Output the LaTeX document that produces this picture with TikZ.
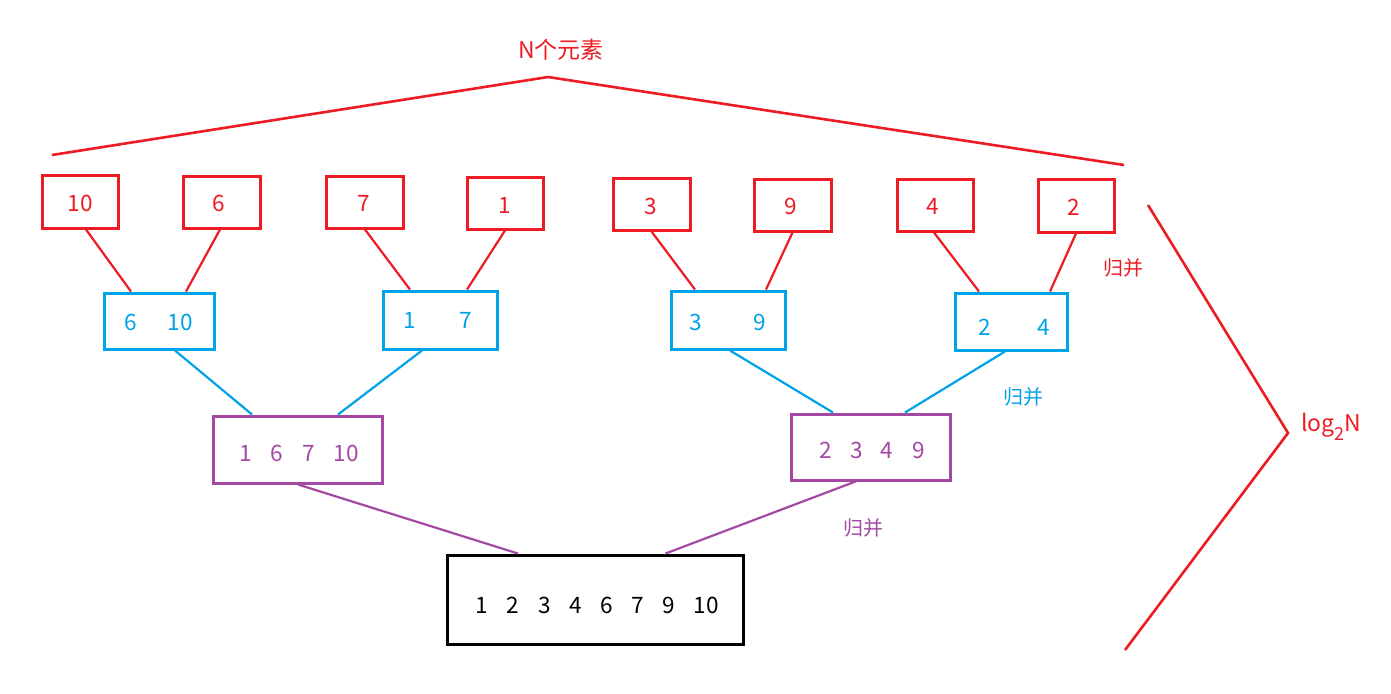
\documentclass[tikz,border=0pt]{standalone}
\usepackage{fontspec}
\setmainfont{Noto Sans CJK SC}
\usetikzlibrary{calc}
\definecolor{pred}{RGB}{237,28,36}
\definecolor{pblue}{RGB}{0,162,232}
\definecolor{ppurple}{RGB}{163,73,164}
\tikzset{
  box/.style={draw, rectangle, inner sep=0pt, line width=1.5pt},
  redbox/.style={box, draw=pred},
  bluebox/.style={box, draw=pblue},
  purplebox/.style={box, draw=ppurple},
  blackbox/.style={box, draw=black},
  num/.style={inner sep=0pt, font=\fontsize{11.3}{13}\selectfont},
  rednum/.style={num, text=pred},
  bluenum/.style={num, text=pblue},
  purplenum/.style={num, text=ppurple},
  blacknum/.style={num, text=black},
  lbl/.style={inner sep=0pt, font=\fontsize{10}{12}\selectfont},
  conn/.style={line width=1.1pt},
  redline/.style={conn, draw=pred},
  blueline/.style={conn, draw=pblue},
  purpleline/.style={conn, draw=ppurple},
  brace/.style={line width=1.3pt, draw=pred},
}
\newcommand\mkbox[6]{\node[#6, minimum width={(#4-#2)*0.5pt}, minimum height={(#5-#3)*0.5pt}] (#1) at ({(#2+#4)/2},{(#3+#5)/2}) {};}
\begin{document}
\begin{tikzpicture}[x=0.5pt, y=-0.5pt]
\useasboundingbox[fill=white] (0,0) rectangle (1391,693);
% red boxes
\mkbox{r10}{42}{175}{118}{228}{redbox}
\mkbox{r6}{183}{176}{260}{228}{redbox}
\mkbox{r7}{326}{176}{403}{228}{redbox}
\mkbox{r1}{467}{177}{543}{229}{redbox}
\mkbox{r3}{613}{178}{690}{230}{redbox}
\mkbox{r9}{754}{179}{831}{231}{redbox}
\mkbox{r4}{897}{179}{973}{231}{redbox}
\mkbox{r2}{1038}{179}{1114}{232}{redbox}
\node[rednum] (t10) at (80,203) {10};
\node[rednum] (t6) at (219,203) {6};
\node[rednum] (t7) at (364,203) {7};
\node[rednum] (t1) at (505,205) {1};
\node[rednum] (t3) at (651,206) {3};
\node[rednum] (t9) at (791,206) {9};
\node[rednum] (t4) at (933,206) {4};
\node[rednum] (t2) at (1074,207) {2};
% blue boxes
\mkbox{b1}{104}{293}{214}{349}{bluebox}
\mkbox{b2}{383}{291}{497}{349}{bluebox}
\mkbox{b3}{671}{291}{785}{349}{bluebox}
\mkbox{b4}{955}{293}{1067}{350}{bluebox}
\node[bluenum] (b1a) at (131,322) {6};
\node[bluenum] (b1b) at (180,322) {10};
\node[bluenum] (b2a) at (410,320) {1};
\node[bluenum] (b2b) at (466,320) {7};
\node[bluenum] (b3a) at (696,322) {3};
\node[bluenum] (b3b) at (760,322) {9};
\node[bluenum] (b4a) at (985,327) {2};
\node[bluenum] (b4b) at (1044,327) {4};
% purple boxes
\mkbox{p1}{213}{416}{382}{483}{purplebox}
\mkbox{p2}{791}{414}{950}{480}{purplebox}
\node[purplenum] (p1a) at (246,453) {1};
\node[purplenum] (p1b) at (277,453) {6};
\node[purplenum] (p1c) at (309,453) {7};
\node[purplenum] (p1d) at (346,453) {10};
\node[purplenum] (p2a) at (826,450) {2};
\node[purplenum] (p2b) at (857,450) {3};
\node[purplenum] (p2c) at (887,450) {4};
\node[purplenum] (p2d) at (919,450) {9};
% black box
\mkbox{k}{447}{555}{743}{644}{blackbox}
\node[blacknum] (k1) at (482,605) {1};
\node[blacknum] (k2) at (513,605) {2};
\node[blacknum] (k3) at (545,605) {3};
\node[blacknum] (k4) at (576,605) {4};
\node[blacknum] (k6) at (607,605) {6};
\node[blacknum] (k7) at (638,605) {7};
\node[blacknum] (k9) at (669,605) {9};
\node[blacknum] (k10) at (706,605) {10};
% red connectors
\draw[redline] ($(r10.south)+(6,0)$) -- ($(b1.north)+(-28,0)$);
\draw[redline] ($(r6.south)+(-1.5,0)$) -- ($(b1.north)+(27,0)$);
\draw[redline] ($(r7.south)+(0.5,0)$) -- ($(b2.north)+(-30,0)$);
\draw[redline] ($(r1.south)+(0,0)$) -- ($(b2.north)+(27,0)$);
\draw[redline] ($(r3.south)+(0,0)$) -- ($(b3.north)+(-33,0)$);
\draw[redline] ($(r9.south)+(0,0)$) -- ($(b3.north)+(38,0)$);
\draw[redline] ($(r4.south)+(-1,0)$) -- ($(b4.north)+(-32,0)$);
\draw[redline] ($(r2.south)+(0,0)$) -- ($(b4.north)+(39,0)$);
% blue connectors
\draw[blueline] ($(b1.south)+(16,0)$) -- ($(p1.north)+(-45.5,0)$);
\draw[blueline] ($(b2.south)+(-18,0)$) -- ($(p1.north)+(40.5,0)$);
\draw[blueline] ($(b3.south)+(2,0)$) -- ($(p2.north)+(-37.5,0)$);
\draw[blueline] ($(b4.south)+(-6,0)$) -- ($(p2.north)+(34.5,0)$);
% purple connectors
\draw[purpleline] ($(p1.south)+(0.5,0)$) -- ($(k.north)+(-77,0)$);
\draw[purpleline] ($(p2.south)+(-15,0)$) -- ($(k.north)+(70.5,0)$);
% labels
\node[lbl, text=pred] (m1) at (1123,268) {归并};
\node[lbl, text=pblue] (m2) at (1023,397) {归并};
\node[lbl, text=ppurple] (m3) at (863,528) {归并};
\node[inner sep=0pt, text=pred, font=\fontsize{11.5}{13}\selectfont] (top) at (561,50) {N个元素};
\node[inner sep=0pt, text=pred, font=\fontsize{11.5}{13}\selectfont, anchor=base west] (logn) at (1301,431) {log\raisebox{-0.75ex}{\fontsize{9}{10}\selectfont 2}N};
% braces
\coordinate (ta) at (52,155);
\coordinate (tb) at (548,77);
\coordinate (tc) at (1124,165);
\draw[brace] (ta) -- (tb) -- (tc);
\coordinate (ra) at (1148,205);
\coordinate (rb) at (1288,433);
\coordinate (rc) at (1125,650);
\draw[brace] (ra) -- (rb) -- (rc);
\end{tikzpicture}
\end{document}
